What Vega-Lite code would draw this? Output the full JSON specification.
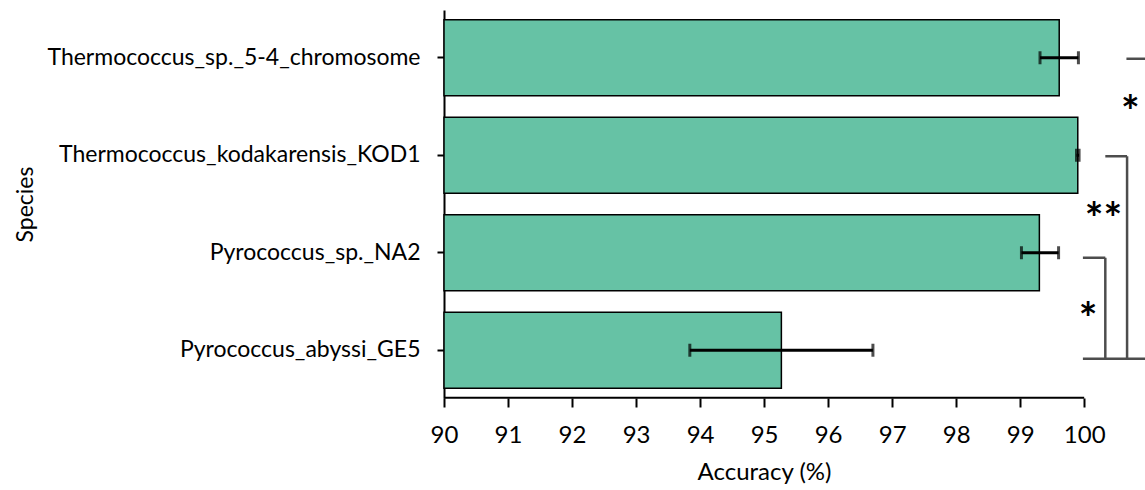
{
  "$schema": "https://vega.github.io/schema/vega-lite/v6.json",
  "autosize": "none",
  "width": 701,
  "height": 388,
  "padding": {"left": 444, "top": 10, "right": 0, "bottom": 92},
  "background": "white",
  "config": {
    "view": {"stroke": null},
    "font": "Lato",
    "axis": {"grid": false, "domainColor": "black", "tickColor": "black", "labelColor": "black", "titleColor": "black", "titleFontWeight": "normal", "domainWidth": 2, "tickWidth": 2}
  },
  "datasets": {
    "bars": [
      {"species": "Thermococcus_sp._5-4_chromosome", "acc": 99.61, "lo": 99.31, "hi": 99.91},
      {"species": "Thermococcus_kodakarensis_KOD1", "acc": 99.9, "lo": 99.88, "hi": 99.92},
      {"species": "Pyrococcus_sp._NA2", "acc": 99.3, "lo": 99.02, "hi": 99.6},
      {"species": "Pyrococcus_abyssi_GE5", "acc": 95.27, "lo": 93.84, "hi": 96.7}
    ]
  },
  "layer": [
    {
      "data": {"name": "bars"},
      "mark": {"type": "bar", "fill": "#66c2a5", "stroke": "black", "strokeWidth": 1.5},
      "encoding": {
        "y": {"field": "species", "type": "nominal", "sort": null, "title": "Species",
              "scale": {"paddingInner": 0.22, "paddingOuter": 0.1},
              "axis": {"labelFontSize": 23, "titleFontSize": 23, "tickSize": 7, "labelPadding": 17, "labelLimit": 600, "titleX": -419, "titleY": 194, "titleBaseline": "middle", "titleAlign": "center"}},
        "x": {"field": "acc", "type": "quantitative", "title": "Accuracy (%)",
              "scale": {"domain": [90, 100.95], "nice": false, "zero": false},
              "axis": {"values": [90, 91, 92, 93, 94, 95, 96, 97, 98, 99, 100], "format": "d", "domain": false, "labelFontSize": 24, "titleFontSize": 24, "tickSize": 9, "labelPadding": 16, "titlePadding": 13, "titleX": 320, "labelFlush": false}},
        "x2": {"datum": 90}
      }
    },
    {
      "data": {"values": [{"a": 90, "b": 100, "species": "Pyrococcus_abyssi_GE5"}]},
      "mark": {"type": "rule", "color": "black", "strokeWidth": 2, "yOffset": 47.5},
      "encoding": {
        "x": {"field": "a", "type": "quantitative"},
        "x2": {"field": "b"},
        "y": {"field": "species", "type": "nominal", "sort": null}
      }
    },
    {
      "data": {"name": "bars"},
      "mark": {"type": "rule", "color": "black", "strokeWidth": 3},
      "encoding": {
        "x": {"field": "lo", "type": "quantitative"},
        "x2": {"field": "hi"},
        "y": {"field": "species", "type": "nominal", "sort": null}
      }
    },
    {
      "data": {"name": "bars"},
      "mark": {"type": "tick", "color": "black", "thickness": 3, "size": 13},
      "encoding": {
        "x": {"field": "lo", "type": "quantitative"},
        "y": {"field": "species", "type": "nominal", "sort": null}
      }
    },
    {
      "data": {"name": "bars"},
      "mark": {"type": "tick", "color": "black", "thickness": 3, "size": 13},
      "encoding": {
        "x": {"field": "hi", "type": "quantitative"},
        "y": {"field": "species", "type": "nominal", "sort": null}
      }
    },
    {
      "data": {"values": [
        {"species": "Thermococcus_sp._5-4_chromosome", "x1": 100.66, "x2": 100.95},
        {"species": "Thermococcus_kodakarensis_KOD1", "x1": 100.33, "x2": 100.67}
      ]},
      "mark": {"type": "rule", "color": "#4d4d4d", "strokeWidth": 2.5, "yOffset": 1},
      "encoding": {
        "x": {"field": "x1", "type": "quantitative"},
        "x2": {"field": "x2"},
        "y": {"field": "species", "type": "nominal", "sort": null}
      }
    },
    {
      "data": {"values": [{"species": "Pyrococcus_sp._NA2", "x1": 99.98, "x2": 100.33}]},
      "mark": {"type": "rule", "color": "#4d4d4d", "strokeWidth": 2.5, "yOffset": 5},
      "encoding": {
        "x": {"field": "x1", "type": "quantitative"},
        "x2": {"field": "x2"},
        "y": {"field": "species", "type": "nominal", "sort": null}
      }
    },
    {
      "data": {"values": [{"species": "Pyrococcus_abyssi_GE5", "x1": 99.98, "x2": 100.95}]},
      "mark": {"type": "rule", "color": "#4d4d4d", "strokeWidth": 2.5, "yOffset": 8.5},
      "encoding": {
        "x": {"field": "x1", "type": "quantitative"},
        "x2": {"field": "x2"},
        "y": {"field": "species", "type": "nominal", "sort": null}
      }
    },
    {
      "data": {"values": [{"x": 100.67, "s1": "Thermococcus_kodakarensis_KOD1", "s2": "Pyrococcus_abyssi_GE5"}]},
      "mark": {"type": "rule", "color": "#4d4d4d", "strokeWidth": 2.5, "yOffset": 1, "y2Offset": 8.5},
      "encoding": {
        "x": {"field": "x", "type": "quantitative"},
        "y": {"field": "s1", "type": "nominal", "sort": null},
        "y2": {"field": "s2"}
      }
    },
    {
      "data": {"values": [{"x": 100.33, "s1": "Pyrococcus_sp._NA2", "s2": "Pyrococcus_abyssi_GE5"}]},
      "mark": {"type": "rule", "color": "#4d4d4d", "strokeWidth": 2.5, "yOffset": 5, "y2Offset": 8.5},
      "encoding": {
        "x": {"field": "x", "type": "quantitative"},
        "y": {"field": "s1", "type": "nominal", "sort": null},
        "y2": {"field": "s2"}
      }
    },
    {
      "data": {"values": [{"t": "*", "x": 100.72, "species": "Thermococcus_sp._5-4_chromosome"}]},
      "mark": {"type": "text", "fontSize": 44, "fontWeight": "bold", "baseline": "middle", "dy": 56},
      "encoding": {
        "x": {"field": "x", "type": "quantitative"},
        "y": {"field": "species", "type": "nominal", "sort": null},
        "text": {"field": "t"}
      }
    },
    {
      "data": {"values": [{"t": "**", "x": 100.3, "species": "Thermococcus_kodakarensis_KOD1"}]},
      "mark": {"type": "text", "fontSize": 44, "fontWeight": "bold", "baseline": "middle", "dy": 66},
      "encoding": {
        "x": {"field": "x", "type": "quantitative"},
        "y": {"field": "species", "type": "nominal", "sort": null},
        "text": {"field": "t"}
      }
    },
    {
      "data": {"values": [{"t": "*", "x": 100.06, "species": "Pyrococcus_sp._NA2"}]},
      "mark": {"type": "text", "fontSize": 44, "fontWeight": "bold", "baseline": "middle", "dy": 68},
      "encoding": {
        "x": {"field": "x", "type": "quantitative"},
        "y": {"field": "species", "type": "nominal", "sort": null},
        "text": {"field": "t"}
      }
    }
  ]
}
